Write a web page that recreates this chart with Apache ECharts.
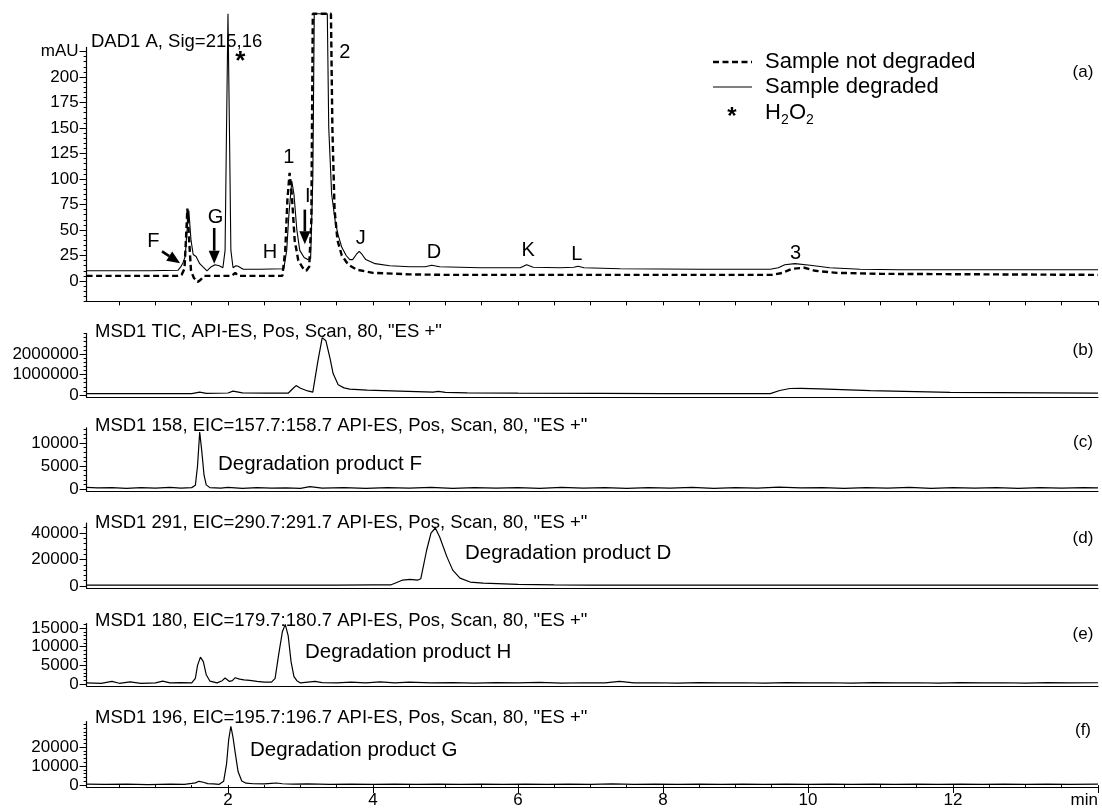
<!DOCTYPE html>
<html><head><meta charset="utf-8">
<script src="https://cdn.jsdelivr.net/npm/echarts@6/dist/echarts.min.js"></script>
<style>html,body{margin:0;padding:0;background:#fff}#c{width:1102px;height:809px}</style>
</head><body><div id="c"></div>
<script>
// ---------- DATA (time in min, intensity) ----------
const timeMajorTicks = [2, 4, 6, 8, 10, 12, 14];
const timeTickLabels = ['2', '4', '6', '8', '10', '12', 'min'];

const dadNotDegraded = [
 [0.05,5],[1.30,5],[1.36,6],[1.40,12],[1.42,40],[1.44,71],[1.46,45],[1.49,10],[1.53,3],[1.58,-1],[1.62,1],[1.67,5],
 [1.75,5],[2.05,5],[2.10,8],[2.14,5],[2.75,5],[2.79,30],[2.82,80],[2.85,106],[2.88,85],[2.92,40],[2.97,20],[3.03,13],
 [3.08,10],[3.12,14],[3.15,60],[3.17,262],[3.42,262],[3.44,150],[3.47,70],[3.51,40],[3.57,25],[3.66,16],[3.78,11],
 [4.0,8],[4.5,6.5],[5.0,6],[6.0,6],[7.0,6],[9.5,6],[9.65,8],[9.78,12],[9.95,13],[10.1,10],[10.4,8],[11,7],[14,6]
];
const dadDegraded = [
 [0.05,10],[0.92,10],[1.31,10.5],[1.35,14],[1.38,18],[1.41,24],[1.43,45],[1.46,69],[1.49,40],[1.52,26],[1.56,24],
 [1.61,17],[1.71,10],[1.77,14],[1.82,16],[1.88,15],[1.93,13],[1.96,30],[1.98,150],[2.00,262],[2.02,150],[2.04,30],
 [2.07,13],[2.11,15],[2.14,14.5],[2.21,11.5],[2.44,11.5],[2.77,12],[2.81,30],[2.84,65],[2.88,98],[2.91,85],[2.95,50],
 [2.99,30],[3.05,23],[3.10,21],[3.14,22],[3.17,100],[3.19,262],[3.37,262],[3.39,150],[3.43,85],[3.48,58],[3.52,45],
 [3.57,33],[3.63,25],[3.68,21],[3.72,21],[3.77,26],[3.81,29],[3.85,26],[3.90,21],[4.03,17],[4.23,15],[4.51,14],
 [4.72,14],[4.81,15.5],[4.92,14],[5.48,13],[6.03,13],[6.12,16],[6.21,13.5],[6.58,13],[6.77,13.5],[6.83,14.5],[6.91,13],
 [7.41,12],[8.51,11.5],[9.48,11.5],[9.59,13],[9.68,16],[9.82,17],[10.03,15.5],[10.30,13],[10.72,11.5],[11.27,11],
 [12.65,11],[14,11]
];
const ticTrace = [
 [0.05,70000],[1.5,70000],[1.61,140000],[1.7,80000],[2.0,100000],[2.07,190000],[2.2,110000],[2.54,90000],[2.83,90000],
 [2.9,330000],[2.94,460000],[3.0,330000],[3.1,200000],[3.17,140000],[3.24,1650000],[3.30,2800000],[3.35,2650000],
 [3.41,1750000],[3.45,1050000],[3.52,500000],[3.6,350000],[3.68,290000],[3.92,240000],[4.37,190000],[4.83,140000],
 [4.9,175000],[5.0,130000],[5.30,110000],[6,90000],[7.13,80000],[8,70000],[9.48,70000],[9.61,220000],[9.75,320000],
 [9.9,330000],[10.17,300000],[10.86,220000],[11.96,130000],[14,90000]
];
const eic158 = [
 [0.05,350],[0.2,250],[0.4,300],[0.6,150],[0.8,300],[1.0,200],[1.2,350],[1.35,200],[1.5,300],[1.55,800],[1.58,5000],
 [1.61,12400],[1.64,8000],[1.67,3000],[1.7,900],[1.75,300],[1.9,200],[2.0,350],[2.2,150],[2.4,300],[2.6,200],[2.8,250],
 [3.0,150],[3.13,500],[3.3,200],[3.6,300],[3.9,150],[4.2,300],[4.5,200],[4.8,350],[5.1,150],[5.4,300],[5.7,200],
 [6.0,300],[6.3,150],[6.6,350],[6.9,200],[7.2,300],[7.5,150],[7.8,300],[8.1,200],[8.4,350],[8.7,150],[9.0,300],
 [9.3,200],[9.6,400],[9.9,250],[10.2,300],[10.5,150],[10.8,300],[11.1,200],[11.4,350],[11.7,150],[12.0,300],[12.3,200],
 [12.6,300],[12.9,150],[13.2,300],[13.5,200],[13.8,300],[14,250]
];
const eic291 = [
 [0.05,700],[0.5,600],[1.0,700],[1.5,600],[2.0,700],[2.5,600],[3.0,700],[3.5,600],[4.0,800],[4.25,900],[4.32,2500],
 [4.41,4500],[4.51,5000],[4.62,4500],[4.66,5500],[4.74,27000],[4.8,40000],[4.86,43800],[4.92,37000],[5.02,22000],
 [5.10,12000],[5.20,6000],[5.34,3000],[5.52,2200],[6.0,1200],[6.5,800],[7,700],[8,600],[9,700],[10,600],[11,700],
 [12,600],[13,700],[14,600]
];
const eic180 = [
 [0.05,300],[0.25,200],[0.4,700],[0.5,200],[0.65,600],[0.8,200],[1.0,300],[1.1,800],[1.2,300],[1.35,400],[1.5,300],
 [1.55,1500],[1.58,5000],[1.62,7200],[1.66,6000],[1.7,2500],[1.75,800],[1.85,300],[1.92,900],[1.96,1600],[2.02,700],
 [2.06,900],[2.1,1700],[2.16,1300],[2.22,1100],[2.3,1000],[2.4,700],[2.5,500],[2.6,500],[2.65,1500],[2.7,8000],
 [2.75,14000],[2.79,16000],[2.83,13000],[2.87,6000],[2.91,2000],[2.95,900],[3.0,300],[3.1,500],[3.2,700],[3.3,400],
 [3.5,300],[3.7,500],[3.9,300],[4.1,600],[4.3,300],[4.5,500],[4.8,300],[5.1,400],[5.4,250],[5.7,400],[6.0,300],
 [6.3,450],[6.6,250],[6.9,350],[7.2,300],[7.4,700],[7.6,300],[7.9,350],[8.2,250],[8.5,400],[8.8,300],[9.1,350],
 [9.4,250],[9.7,400],[10.0,300],[10.3,350],[10.6,250],[10.9,400],[11.2,300],[11.5,350],[11.8,250],[12.1,400],
 [12.4,300],[12.7,350],[13.0,250],[13.3,400],[13.6,300],[14,350]
];
const eic196 = [
 [0.05,500],[0.3,400],[0.6,500],[0.9,300],[1.2,500],[1.4,400],[1.5,900],[1.55,1200],[1.6,2000],[1.66,1500],[1.72,800],
 [1.8,600],[1.88,400],[1.94,2000],[1.98,11000],[2.01,24000],[2.04,31000],[2.07,25000],[2.1,17000],[2.14,7000],
 [2.19,2200],[2.25,1000],[2.35,700],[2.5,600],[2.6,900],[2.67,1100],[2.75,700],[2.9,500],[3.1,600],[3.4,400],
 [3.7,550],[4.0,400],[4.3,500],[4.6,350],[4.9,500],[5.2,400],[5.5,550],[5.8,400],[6.1,500],[6.4,350],[6.7,500],
 [7.0,400],[7.3,600],[7.6,400],[7.9,500],[8.2,350],[8.5,500],[8.8,400],[9.1,550],[9.4,400],[9.7,500],[10.0,350],
 [10.3,500],[10.6,400],[10.9,550],[11.2,400],[11.5,500],[11.8,350],[12.1,500],[12.4,400],[12.7,550],[13.0,400],
 [13.3,500],[13.6,350],[14,500]
];

const yLabelValues = [
 [0,25,50,75,100,125,150,175,200,225],
 [0,1000000,2000000],
 [0,5000,10000],
 [0,20000,40000],
 [0,5000,10000,15000],
 [0,10000,20000]
];
const panelTitles = [
 'DAD1 A, Sig=215,16',
 'MSD1 TIC, API-ES, Pos, Scan, 80, "ES +"',
 'MSD1 158, EIC=157.7:158.7 API-ES, Pos, Scan, 80, "ES +"',
 'MSD1 291, EIC=290.7:291.7 API-ES, Pos, Scan, 80, "ES +"',
 'MSD1 180, EIC=179.7:180.7 API-ES, Pos, Scan, 80, "ES +"',
 'MSD1 196, EIC=195.7:196.7 API-ES, Pos, Scan, 80, "ES +"'
];
const panelLetters = ['(a)','(b)','(c)','(d)','(e)','(f)'];
const productLabels = ['Degradation product F','Degradation product D','Degradation product H','Degradation product G'];
const peakLabels = [
 ['F',0.97,39],['G',1.83,62],['H',2.58,28],['1',2.84,121],['I',3.10,83],['2',3.61,224],['*',2.17,215],
 ['J',3.83,42],['D',4.84,28],['K',6.14,30],['L',6.81,26],['3',9.83,27]
];
const peakArrows = [
 [[1.09,29],[1.34,17.5]],
 [[1.81,52],[1.81,17]],
 [[3.06,70],[3.06,36]]
];
const legendLabels = ['Sample not degraded','Sample degraded'];

// ---------- LAYOUT ----------
const FONT = 'Liberation Sans, Arial, Helvetica, sans-serif';
const gridLeft = 86.6, gridRight = 4;
const layout = [
 {top:47.4, height:254, min:-20, max:229, minor:5},
 {top:333.5, height:63.6, min:-100000, max:3000000, minor:200000},
 {top:427.8, height:63.5, min:-500, max:13300, minor:1000},
 {top:523.1, height:64.9, min:-1500, max:47500, minor:4000},
 {top:623.6, height:62.3, min:-500, max:16200, minor:1000},
 {top:721.5, height:65.5, min:-1000, max:33500, minor:2000}
];
const titleY = [42, 332, 426, 523, 621, 718];
const letterY = [72, 350, 442, 538, 634, 730];
const productPos = [[218,464],[465,553],[305,652],[250,750]];

function range(a, b, s) { const r = []; for (let v = a; v <= b + 1e-9; v += s) r.push(+v.toFixed(6)); return r; }
const minorTime = range(0.5, 14, 0.5);

const grids = [], xAxes = [], yAxes = [], series = [];
const traces = [null, ticTrace, eic158, eic291, eic180, eic196];
layout.forEach((L, i) => {
  grids.push({left: gridLeft, right: gridRight, top: L.top, height: L.height});
  const isLast = i === layout.length - 1;
  xAxes.push({
    type:'value', gridIndex:i, min:0.05, max:14, position:'bottom',
    axisLine:{show:true, onZero:false, lineStyle:{color:'#000', width:1.2}},
    axisTick:{show: i === 0 || isLast, customValues: isLast ? timeMajorTicks : minorTime, length: isLast ? 6 : 4, lineStyle:{color:'#000'}},
    axisLabel:{show:isLast, customValues: timeMajorTicks, fontFamily:FONT, fontSize:17, color:'#000', margin:5,
      alignMaxLabel:'right', formatter: v => timeTickLabels[timeMajorTicks.indexOf(v)] || ''},
    splitLine:{show:false}
  });
  if (isLast) {
    xAxes.push({
      type:'value', gridIndex:i, min:0.05, max:14, position:'bottom',
      axisLine:{show:false}, axisLabel:{show:false}, splitLine:{show:false},
      axisTick:{show:true, customValues:minorTime, length:3, lineStyle:{color:'#000'}}
    });
  }
  const minorVals = range(Math.ceil(L.min / L.minor) * L.minor, L.max, L.minor);
  const yi = yAxes.length;
  yAxes.push({
    type:'value', gridIndex:i, min:L.min, max:L.max, position:'left',
    axisLine:{show:true, onZero:false, lineStyle:{color:'#000', width:1.2}},
    axisTick:{show:true, customValues:yLabelValues[i], length:7, lineStyle:{color:'#000'}},
    axisLabel:{show:true, customValues:yLabelValues[i], fontFamily:FONT, fontSize:17, color:'#000', margin:8,
      formatter: v => (i === 0 && v === 225) ? 'mAU' : String(v)},
    splitLine:{show:false}
  });
  yAxes.push({
    type:'value', gridIndex:i, min:L.min, max:L.max, position:'left',
    axisLine:{show:false}, axisLabel:{show:false}, splitLine:{show:false},
    axisTick:{show:true, customValues:minorVals, length:3, lineStyle:{color:'#000'}}
  });
  const xi = xAxes.length - (isLast ? 2 : 1);
  if (i === 0) {
    series.push({
      type:'line', xAxisIndex:xi, yAxisIndex:yi, data:dadNotDegraded, showSymbol:false, silent:true, clip:false,
      lineStyle:{color:'#000', width:2.4, type:[6,3.5]}
    });
    series.push({
      type:'line', xAxisIndex:xi, yAxisIndex:yi, data:dadDegraded, showSymbol:false, silent:true, clip:false,
      lineStyle:{color:'#000', width:1.1}
    });
  } else {
    series.push({
      type:'line', xAxisIndex:xi, yAxisIndex:yi, data:traces[i], showSymbol:false, silent:true,
      lineStyle:{color:'#000', width:1.2}
    });
  }
});

const graphic = [];
panelTitles.forEach((t, i) => graphic.push({type:'text', silent:true, z:100,
  style:{x: i === 0 ? 91 : 95, y: titleY[i], text:t, verticalAlign:'middle', font:'18.5px ' + FONT, fill:'#000'}}));
panelLetters.forEach((t, i) => graphic.push({type:'text', silent:true, z:100,
  style:{x: 1083, y: letterY[i], text:t, align:'center', verticalAlign:'middle', font:'17px ' + FONT, fill:'#000'}}));
productLabels.forEach((t, i) => graphic.push({type:'text', silent:true, z:100,
  style:{x: productPos[i][0], y: productPos[i][1], text:t, verticalAlign:'middle', font:'20.5px ' + FONT, fill:'#000'}}));
// legend
graphic.push({type:'line', silent:true, shape:{x1:713, y1:62, x2:752, y2:62}, style:{stroke:'#000', lineWidth:2.4, lineDash:[6,3.5]}});
graphic.push({type:'line', silent:true, shape:{x1:713, y1:87, x2:752, y2:87}, style:{stroke:'#000', lineWidth:1.1}});
legendLabels.forEach((t, k) => graphic.push({type:'text', silent:true,
  style:{x:765, y:62 + 25 * k, text:t, verticalAlign:'middle', font:'22px ' + FONT, fill:'#000'}}));
graphic.push({type:'text', silent:true, style:{x:732, y:117, text:'*', align:'center', verticalAlign:'middle', font:'bold 24px ' + FONT, fill:'#000'}});
graphic.push({type:'text', silent:true, style:{x:765, y:113, text:'H', verticalAlign:'middle', font:'22px ' + FONT, fill:'#000'}});
graphic.push({type:'text', silent:true, style:{x:781, y:120, text:'2', verticalAlign:'middle', font:'14px ' + FONT, fill:'#000'}});
graphic.push({type:'text', silent:true, style:{x:789, y:113, text:'O', verticalAlign:'middle', font:'22px ' + FONT, fill:'#000'}});
graphic.push({type:'text', silent:true, style:{x:806, y:120, text:'2', verticalAlign:'middle', font:'14px ' + FONT, fill:'#000'}});

const chart = echarts.init(document.getElementById('c'), null, {renderer:'canvas'});
chart.setOption({
  backgroundColor:'#fff', animation:false,
  grid:grids, xAxis:xAxes, yAxis:yAxes, series:series, graphic:graphic
});

// annotations anchored to data coordinates of panel (a)
const ann = [];
const toPx = p => chart.convertToPixel({seriesIndex:1}, p);
peakLabels.forEach(([txt, t, v]) => {
  const [px, py] = toPx([t, v]);
  ann.push({type:'text', silent:true, z:100, style:{x:px, y:py, text:txt, align:'center', verticalAlign:'middle',
    font: txt === '*' ? 'bold 26px ' + FONT : '20px ' + FONT, fill:'#000'}});
});
peakArrows.forEach(([a, b]) => {
  const p1 = toPx(a), p2 = toPx(b);
  const dx = p2[0] - p1[0], dy = p2[1] - p1[1], len = Math.hypot(dx, dy);
  const ux = dx / len, uy = dy / len, head = 13, half = 5.5;
  const bx = p2[0] - ux * head, by = p2[1] - uy * head;
  ann.push({type:'line', silent:true, z:100, shape:{x1:p1[0], y1:p1[1], x2:bx, y2:by}, style:{stroke:'#000', lineWidth:2.6}});
  ann.push({type:'polygon', silent:true, z:100, shape:{points:[[p2[0], p2[1]], [bx - uy * half, by + ux * half], [bx + uy * half, by - ux * half]]},
    style:{fill:'#000'}});
});
chart.setOption({graphic: graphic.concat(ann)});
</script></body></html>
